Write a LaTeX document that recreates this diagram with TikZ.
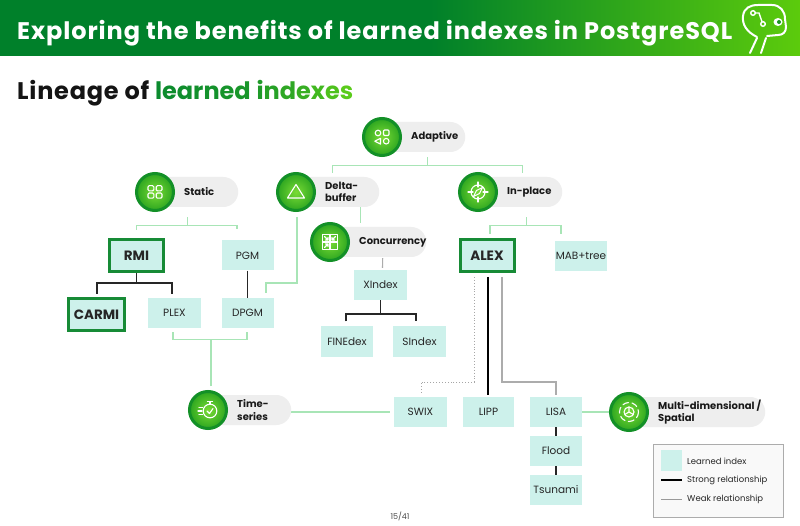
\documentclass[tikz,border=0pt]{standalone}
\usepackage{fontspec}
\setmainfont{Poppins}
\usetikzlibrary{calc}
\definecolor{hdrdark}{HTML}{00802A}
\definecolor{hdrlight}{HTML}{5CCB0C}
\definecolor{liteal}{HTML}{CDF1EB}
\definecolor{thickg}{HTML}{178B36}
\definecolor{catlncol}{HTML}{A8E5B6}
\definecolor{pillg}{HTML}{EEEEEE}
\definecolor{ringg}{HTML}{139027}
\definecolor{circin}{HTML}{7ADB35}
\definecolor{circout}{HTML}{2DA620}
\definecolor{sgA}{HTML}{0B8A2E}
\definecolor{sgB}{HTML}{5ACB1A}
\newcommand{\gl}[2]{\textcolor{sgB!#1!sgA}{#2}}
\pgfdeclarelayer{bg}
\pgfsetlayers{bg,main}
\tikzset{
  pill/.style={rectangle, rounded corners=15pt, fill=pillg, minimum height=30pt, inner sep=0pt},
  cattext/.style={font=\bfseries\fontsize{10}{12.5}\selectfont, align=left, inner sep=0pt, text=black!90},
  catcirc/.style={circle, minimum size=37pt, inner sep=0pt, draw=ringg, line width=3pt, inner color=circin, outer color=circout},
  icon/.style={draw=white, line width=1.1pt, line cap=round, line join=round},
  li/.style={rectangle, fill=liteal, minimum width=52pt, minimum height=30pt, inner sep=0pt, font=\fontsize{10.5}{12}\selectfont, text=black!85},
  thickbox/.style={li, draw=thickg, line width=3pt, minimum width=54pt, minimum height=32pt, font=\bfseries\fontsize{13.5}{15}\selectfont},
  catln/.style={draw=catlncol, line width=1.3pt},
  strongln/.style={draw=black!85, line width=1.6pt},
  strongthick/.style={draw=black, line width=2pt},
  weakln/.style={draw=gray!65, line width=1.1pt},
  dotln/.style={draw=gray!70, dotted, line width=0.9pt},
  legtext/.style={font=\fontsize{8.5}{10}\selectfont, inner sep=0pt, text=black!85},
}
\newcommand{\category}[5]{%
  \node[pill, minimum width=#4pt, anchor=west] (#1) at (#2,#3) {};
  \node[cattext, anchor=west] (#1-t) at (#2+29,#3) {#5};
  \node[catcirc] (#1-c) at (#2,#3) {};
}
\begin{document}
\begin{tikzpicture}[x=1pt,y=-1pt]
\useasboundingbox (0,0) rectangle (800,526);
\begin{pgfonlayer}{bg}
\fill[white] (0,0) rectangle (800,526);
\end{pgfonlayer}
% header band
\fill[hdrdark] (0,0) rectangle (431,56);
\shade[left color=hdrdark, right color=hdrlight] (430,0) rectangle (800,56);
\node[anchor=base west, text=white, inner sep=0pt, font=\bfseries\fontsize{24}{28}\selectfont\addfontfeatures{LetterSpace=3.8}] (title) at (17,40) {Exploring the benefits of learned indexes in PostgreSQL};
% head icon
\draw[white, line width=2pt, line cap=round, line join=round]
  (757,37) .. controls (747,32) and (742,25) .. (743,16)
  .. controls (744,8) and (750,5) .. (758,5) -- (772,5)
  .. controls (780,5) and (785,11) .. (785,19)
  -- (786,27) .. controls (786,32) and (783,35) .. (778,35)
  -- (767,36);
\draw[white, line width=2pt, line cap=round] (757,38) -- (750,53);
\draw[white, line width=2pt, line cap=round] (766,38) -- (761,53);
\fill[white] (778,22) ellipse (4.5 and 4);
\fill[hdrdark!70!hdrlight] (779,22) circle (2);
\draw[white, line width=1.4pt] (753,13) circle (2.3);
\draw[white, line width=1.4pt] (763,24) circle (2.3);
\draw[white, line width=1.4pt] (755.3,13) -- (759,13) -- (762,21.7);
% subtitle
\node[anchor=base west, inner sep=0pt, font=\bfseries\fontsize{24}{28}\selectfont\addfontfeatures{LetterSpace=3.2}] (sub) at (17,100) {\textcolor{black!92}{Lineage of }\gl{0}{l}\gl{3}{e}\gl{6}{a}\gl{9}{r}\gl{12}{n}\gl{15}{e}\gl{18}{d} \gl{25}{i}\gl{35}{n}\gl{45}{d}\gl{55}{e}\gl{70}{x}\gl{85}{e}\gl{100}{s}};
% categories
\category{adaptive}{382}{137}{83}{Adaptive}
\category{static}{155}{192}{83}{Static}
\category{delta}{296}{192}{83}{Delta-\\buffer}
\category{inplace}{478}{192}{84}{In-place}
\category{conc}{330}{242}{96}{Concurrency}
\category{ts}{208}{410}{83}{Time-\\series}
\category{mds}{629}{412}{136}{Multi-dimensional /\\Spatial}
% icons
\begin{scope}[shift={(adaptive-c.center)}]
  \draw[icon] (-4,-4) circle (2.8);
  \draw[icon, rounded corners=1pt] (1.5,-7) rectangle (7,-1.5);
  \draw[icon] (-1.5,1.3) -- (-7.2,4.2) -- (-1.5,7.1) -- cycle;
  \draw[icon] (4.2,4.2) circle (2.8);
\end{scope}
\begin{scope}[shift={(static-c.center)}]
  \foreach \x in {-7,1.2} \foreach \y in {-6.3,1} \draw[icon, rounded corners=1.2pt] (\x,\y) rectangle ++(5.8,5.2);
\end{scope}
\begin{scope}[shift={(delta-c.center)}]
  \draw[icon] (0,-7.5) -- (8.5,6) -- (-8.5,6) -- cycle;
\end{scope}
\begin{scope}[shift={(conc-c.center)}]
  \draw[icon] (-7.5,-7.5) rectangle (7.5,7.5);
  \draw[icon] (0,-7.5) -- (0,7.5);
  \draw[icon] (-7.5,0) -- (7.5,0);
  \draw[icon] (-5.5,-5.5) -- (-2,-2) (-2,-4.5) -- (-2,-2) -- (-4.5,-2);
  \draw[icon] (5.5,-5.5) -- (2,-2) (2,-4.5) -- (2,-2) -- (4.5,-2);
  \draw[icon] (-5.5,5.5) -- (-2,2) (-2,4.5) -- (-2,2) -- (-4.5,2);
\end{scope}
\begin{scope}[shift={(inplace-c.center)}]
  \draw[icon] (0,0) circle (7);
  \draw[icon] (0,-10) -- (0,-5) (0,10) -- (0,5) (-10,0) -- (-5,0) (10,0) -- (5,0);
  \draw[icon] (4.5,-4.5) -- (1.5,1.5) -- (-4.5,4.5) -- (-1.5,-1.5) -- cycle;
\end{scope}
\begin{scope}[shift={(ts-c.center)}]
  \draw[icon] (2,1) circle (6.8);
  \draw[icon] (2,-5.8) -- (2,-8) (-0.5,-8.5) -- (4.5,-8.5);
  \draw[icon] (-1,1) -- (1.5,3.5) -- (5,-1.5);
  \draw[icon] (-9,-2.5) -- (-5.5,-2.5) (-10,1) -- (-6,1) (-9,4.5) -- (-5.5,4.5);
\end{scope}
\begin{scope}[shift={(mds-c.center)}]
  \draw[icon] (0,0) circle (5);
  \draw[icon] (0,0) -- (0,-5) (0,0) -- (4.3,2.5) (0,0) -- (-4.3,2.5);
  \draw[icon, dash pattern=on 6pt off 3.5pt] (0,0) circle (9.5);
\end{scope}
% learned indexes
\node[thickbox] (rmi) at (136.5,255.5) {RMI};
\node[thickbox, minimum width=56pt] (carmi) at (96.5,314.5) {CARMI};
\node[thickbox] (alex) at (487,255.5) {ALEX};
\node[li] (pgm) at (247.5,255.5) {PGM};
\node[li, minimum width=53pt] (plex) at (174.5,313) {PLEX};
\node[li] (dpgm) at (247.5,313) {DPGM};
\node[li, minimum width=53pt] (xindex) at (380.5,285) {XIndex};
\node[li] (finedex) at (347,341.5) {FINEdex};
\node[li, minimum width=53pt] (sindex) at (419.5,341.5) {SIndex};
\node[li] (mab) at (581,256) {MAB+tree};
\node[li, minimum width=53pt] (swix) at (420.5,412) {SWIX};
\node[li, minimum width=51pt] (lipp) at (488.5,412) {LIPP};
\node[li] (lisa) at (556,412) {LISA};
\node[li] (flood) at (556,451) {Flood};
\node[li] (tsunami) at (556,490) {Tsunami};
% legend
\node[draw=gray!65, fill=gray!5, line width=0.8pt, minimum width=130pt, minimum height=73pt, inner sep=0pt, anchor=north west] (legend) at (653,444) {};
\node[fill=liteal, minimum width=21pt, minimum height=21pt, inner sep=0pt] (swatch) at (671.5,460.5) {};
\node[legtext, anchor=west] (lg1) at (687,461) {Learned index};
\node[legtext, anchor=west] (lg2) at (687,480) {Strong relationship};
\node[legtext, anchor=west] (lg3) at (687,499.5) {Weak relationship};
\coordinate (s1) at (661,479.5);
\coordinate (s2) at (682,479.5);
\coordinate (w1) at (661,499);
\coordinate (w2) at (682,499);
\draw[black, line width=2pt] (s1) -- (s2);
\draw[gray!80, line width=0.8pt] (w1) -- (w2);
\node[font=\fontsize{8}{9}\selectfont, text=black!70, inner sep=0pt] (page) at (400,516) {15/41};
% connectors
\begin{pgfonlayer}{bg}
\draw[catln] ($(adaptive.south)+(3.5,5)$) -- ++(0,8) coordinate (ab);
\draw[catln] ($(delta.north)+(-5.5,-4)$) |- (ab) -| ($(inplace.north)+(2,-4)$);
\draw[catln] ($(static.south)+(-9.5,10)$) -- ++(0,8) coordinate (sb);
\draw[catln] ($(rmi.north)+(0,-8)$) |- (sb) -| ($(pgm.north)+(-10.5,-11)$);
\draw[catln] ($(inplace.south)+(6,10)$) -- ++(0,8) coordinate (ib);
\draw[catln] ($(alex.north)+(3,-4)$) |- (ib) -| ($(mab.north)+(-20,-7)$);
\draw[catln] ($(delta.south)+(22.5,0)$) -- ($(conc.north)+(-18,-4)$);
\draw[catln] ($(delta-c.south)+(1,5)$) -- ($(delta-c.south)+(1,71)$) -| ($(dpgm.north)+(18.5,-5)$);
\draw[catln] ($(plex.south)+(-1.5,4)$) -- ++(0,7) coordinate (pb) -| ($(dpgm.south)+(-0.5,4)$);
\draw[catln] ($(ts-c.north)+(3,-4)$) -- ($(ts-c.north)+(3,-51)$);
\draw[catln] (ts.east |- swix.west) -- ($(swix.west)+(-4,0)$);
\draw[catln] (lisa.east) -- (mds-c.center);
\draw[weakln] ($(xindex.north)+(2,-2)$) -- ($(conc.south)+(4.5,1)$);
\draw[strongln] (xindex.south) -- ++(0,14) coordinate (xb);
\draw[strongln] ($(finedex.north)+(-1,-5)$) |- (xb) -| ($(sindex.north)+(-3.5,-5)$);
\draw[strongln] (rmi.south) -- ++(0,10) coordinate (rb);
\draw[strongln] ($(carmi.north)+(0.5,-3)$) |- (rb) -| ($(plex.north)+(-2.5,-4)$);
\draw[strongln] (pgm.south) -- (dpgm.north);
\draw[dotln] ($(alex.south)+(-13,4)$) -- ++(0,105) -| ($(swix.north)+(0.5,-2)$);
\draw[strongthick] ($(alex.south)+(1,4)$) -- ($(lipp.north)+(-0.5,-2)$);
\draw[weakln] ($(alex.south)+(15,4)$) -- ++(0,105) -| ($(lisa.north)+(0,-2)$);
\draw[strongln] (lisa.south) -- (flood.north);
\draw[strongln] (flood.south) -- (tsunami.north);
\end{pgfonlayer}
\end{tikzpicture}
\end{document}
